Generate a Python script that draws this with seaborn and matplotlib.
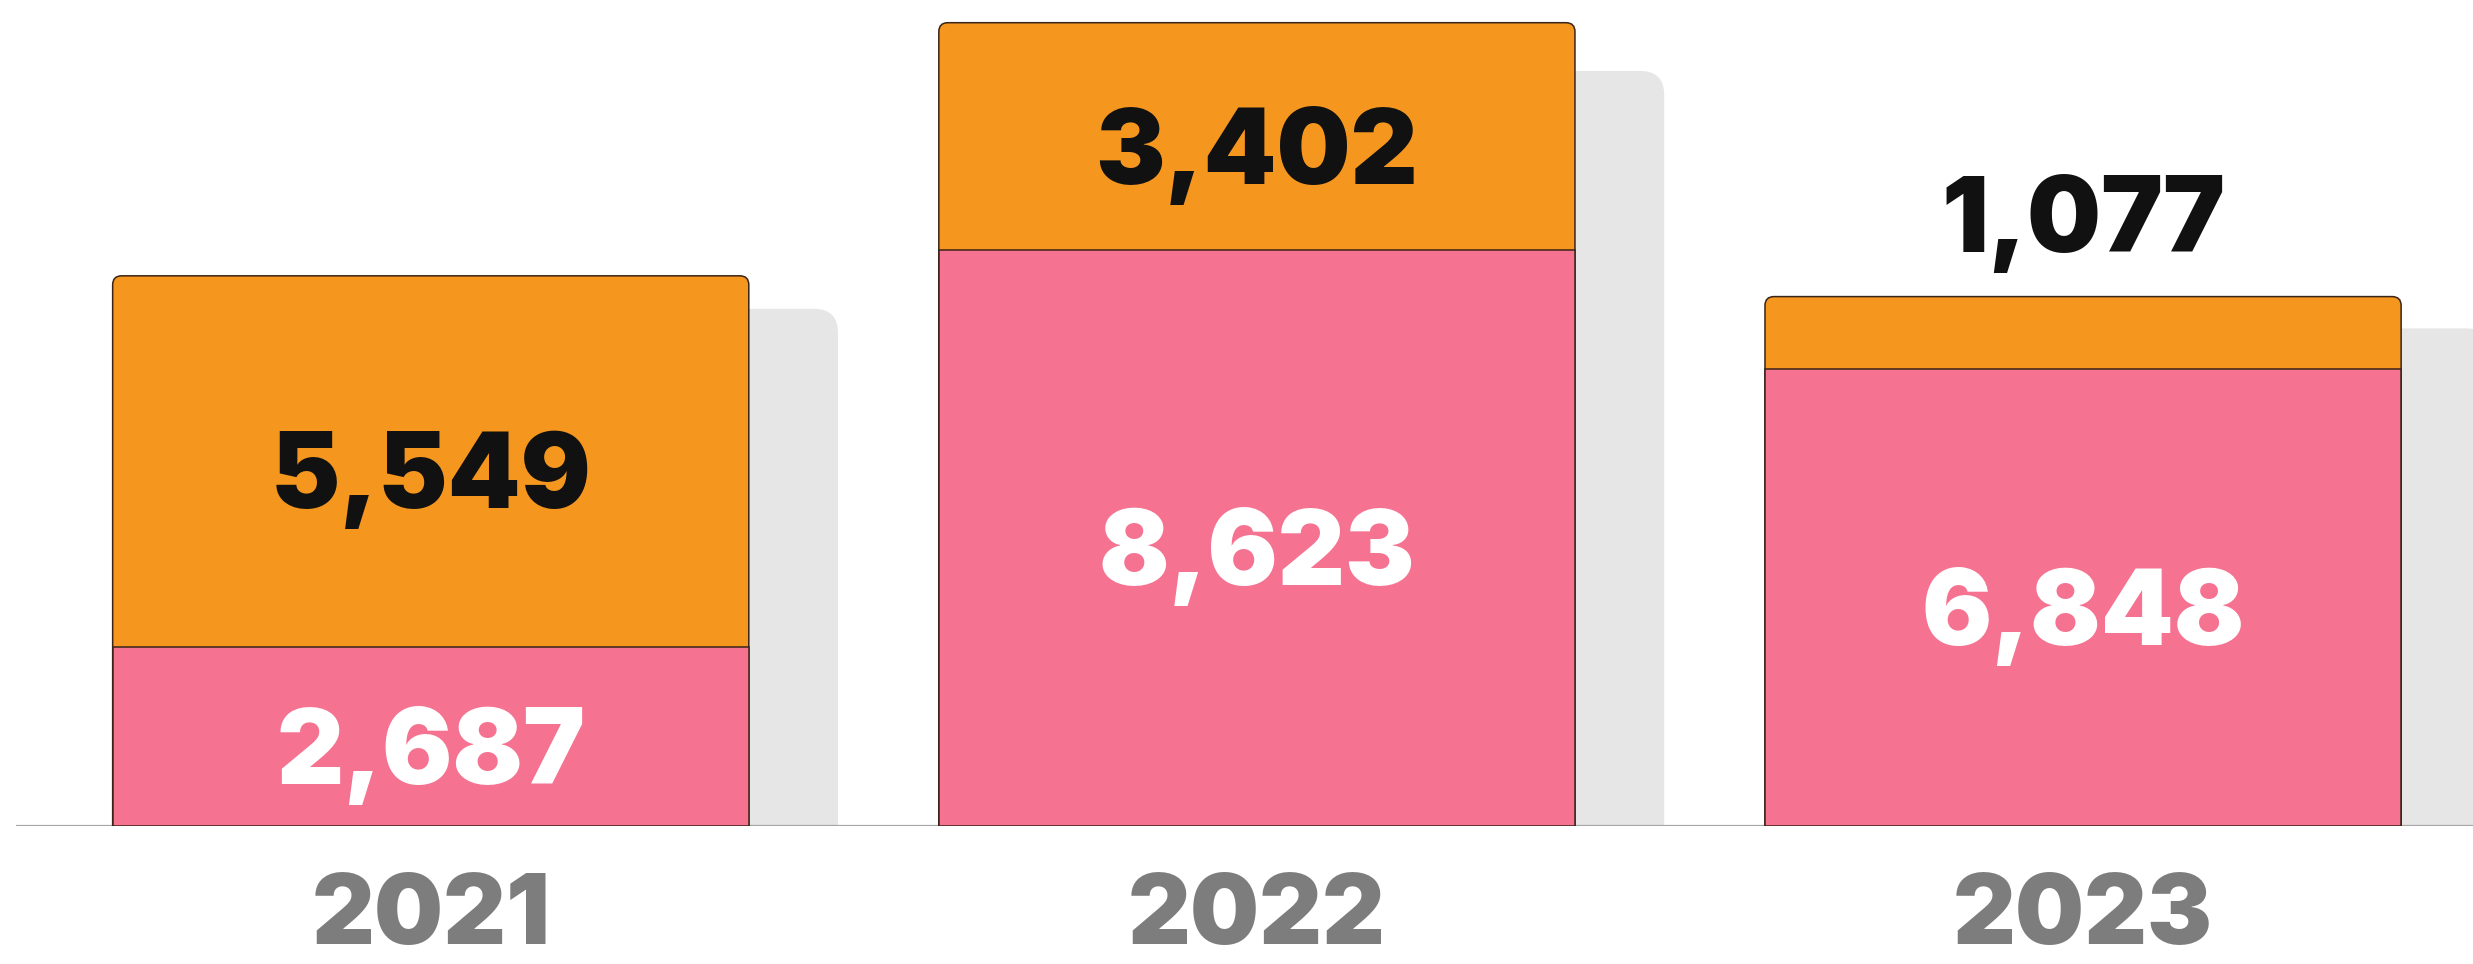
import pandas as pd
import seaborn as sns
import matplotlib.pyplot as plt
from matplotlib.patches import FancyBboxPatch


years = ['2021', '2022', '2023']
pink_vals = [2687, 8623, 6848]
orange_vals = [5549, 3402, 1077]

ORANGE = '#F5971F'
PINK = '#F57391'
SHADOW = '#E6E6E6'
EDGE = '#3A2418'
BASELINE = '#A6A6A6'
YEAR_GREY = '#7D7D7D'
BAR_WIDTH = 0.77
SHADOW_SHIFT = 0.108
SHADOW_SCALE = 0.94

W_PX, H_PX, DPI = 2473, 964, 100
AX_LEFT_PX, AX_BOTTOM_PX = 16, 138
XMIN, XMAX = -0.502, 2.472
YMAX = 12365


df = pd.DataFrame({'year': years, 'pink': pink_vals, 'orange': orange_vals})
df['total'] = df['pink'] + df['orange']
df['shadow'] = df['total'] * SHADOW_SCALE

sns.set_style('white')
plt.rcParams['font.family'] = ['Inter', 'DejaVu Sans']

fig = plt.figure(figsize=(W_PX / DPI, H_PX / DPI), dpi=DPI)
ax = fig.add_axes([AX_LEFT_PX / W_PX, AX_BOTTOM_PX / H_PX,
                   1 - AX_LEFT_PX / W_PX, 1 - AX_BOTTOM_PX / H_PX])


def draw_bars(column, color, **kwargs):
    before = len(ax.patches)
    sns.barplot(data=df, x='year', y=column, color=color, width=BAR_WIDTH,
                saturation=1, ax=ax, **kwargs)
    return ax.patches[before:]


shadow_bars = draw_bars('shadow', SHADOW, linewidth=0)
orange_bars = draw_bars('total', ORANGE, edgecolor=EDGE, linewidth=1.1)
pink_bars = draw_bars('pink', PINK, edgecolor=EDGE, linewidth=1.1)

ax.set_xlim(XMIN, XMAX)
ax.set_ylim(0, YMAX)

# data units per pixel, needed to keep the corner rounding circular
xu = (XMAX - XMIN) / (W_PX - AX_LEFT_PX)
yu = YMAX / (H_PX - AX_BOTTOM_PX)


def round_top(p, radius_px, shift=0.0, zorder=1):
    # bottom goes below the axis so only the top corners show
    x, w = p.get_x() + shift, p.get_width()
    y0 = p.get_y() - radius_px * yu
    h = p.get_height() + radius_px * yu
    box = FancyBboxPatch((x, y0), w, h,
                         boxstyle=f'round,pad=0,rounding_size={radius_px * xu}',
                         mutation_aspect=yu / xu,
                         facecolor=p.get_facecolor(), edgecolor=p.get_edgecolor(),
                         linewidth=p.get_linewidth(), zorder=zorder)
    p.remove()
    ax.add_patch(box)


for p in shadow_bars:
    round_top(p, 24, shift=SHADOW_SHIFT, zorder=0.5)
for p in orange_bars:
    round_top(p, 9, zorder=1)
for p in pink_bars:
    p.set_zorder(1.5)

ax.axhline(0, color=BASELINE, linewidth=1.6, zorder=0.8)

label_kw = dict(ha='center', fontsize=75, fontweight='black', zorder=3,
                textcoords='offset points')
for i, row in df.iterrows():
    ax.annotate(f"{row['pink']:,}", xy=(i, row['pink'] / 2), xytext=(0, -6),
                va='center_baseline', color='white', **label_kw)
    if row['orange'] >= 2000:
        ax.annotate(f"{row['orange']:,}", xy=(i, row['pink'] + row['orange'] / 2),
                    xytext=(0, -6), va='center_baseline', color='#111111',
                    **label_kw)
    else:
        # segment too thin, put the number above the bar
        ax.annotate(f"{row['orange']:,}", xy=(i, row['total']), xytext=(0, 32),
                    va='baseline', color='#111111', **label_kw)

ax.set_xticks(range(len(years)))
ax.set_xticklabels(years)
ax.tick_params(axis='x', length=0, pad=34, labelsize=70, labelcolor=YEAR_GREY)
for lbl in ax.get_xticklabels():
    lbl.set_fontweight('black')
ax.set_yticks([])
ax.set_xlabel('')
ax.set_ylabel('')
for side in ['top', 'right', 'left', 'bottom']:
    ax.spines[side].set_visible(False)

fig.savefig('out.png', dpi=DPI)
